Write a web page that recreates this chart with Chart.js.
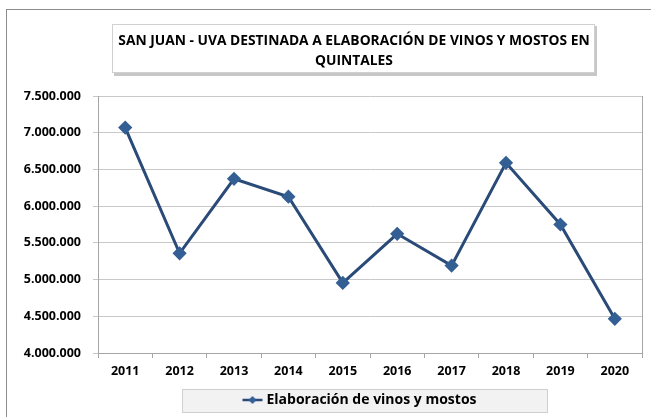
<!DOCTYPE html>
<html>
<head>
<meta charset="utf-8">
<script src="https://cdn.jsdelivr.net/npm/chart.js@4"></script>
<style>
  html, body { margin: 0; padding: 0; background: #fff; }
  #wrap { width: 651px; height: 417px; }
</style>
</head>
<body>
<div id="wrap"><canvas id="uvaChart"></canvas></div>
<script>
const years = ['2011', '2012', '2013', '2014', '2015', '2016', '2017', '2018', '2019', '2020'];
const quintales = [7070000, 5358000, 6373000, 6128000, 4955000, 5623000, 5190000, 6590000, 5750000, 4465000];
const titleLines = ['SAN JUAN - UVA DESTINADA A ELABORACIÓN DE VINOS Y MOSTOS EN', 'QUINTALES'];
const seriesLabel = 'Elaboración de vinos y mostos';

const lineColor = '#2A4A78';
const pointColor = '#335F94';
const font = "'Open Sans', 'Liberation Sans', sans-serif";

// little legend symbol: line with diamond
function legendSymbol(){
  const c = document.createElement('canvas');
  c.width = 22; c.height = 10;
  const g = c.getContext('2d');
  g.strokeStyle = lineColor; g.lineWidth = 2.5;
  g.beginPath(); g.moveTo(1, 5); g.lineTo(21, 5); g.stroke();
  g.fillStyle = pointColor;
  g.beginPath(); g.moveTo(11, 1); g.lineTo(15, 5); g.lineTo(11, 9); g.lineTo(7, 5); g.closePath(); g.fill();
  return c;
}

function fmt(v){
  return String(v).replace(/\B(?=(\d{3})+(?!\d))/g, '.');
}

const framePlugin = {
  id: 'frame',
  afterLayout(chart){
    // legend box sits right of centre in the original
    const lg = chart.legend;
    lg.left += 40; lg.right += 40;
  },
  beforeDraw(chart){
    const ctx = chart.ctx;
    ctx.save();
    // outer frame
    ctx.strokeStyle = '#8c8c8c'; ctx.lineWidth = 1;
    ctx.strokeRect(6.5, 9.5, 660, 430);
    // title box with shadow
    ctx.fillStyle = 'rgba(0,0,0,0.22)';
    ctx.fillRect(114, 26, 483, 50);
    ctx.fillStyle = '#fff';
    ctx.fillRect(112, 24, 483, 49);
    ctx.strokeStyle = '#d0d0d0';
    ctx.strokeRect(112.5, 24.5, 482, 48);
    // legend box
    ctx.fillStyle = '#f2f2f2';
    ctx.fillRect(182, 389, 366, 24);
    ctx.strokeStyle = '#cfcfcf';
    ctx.strokeRect(182.5, 389.5, 365, 23);
    // title text
    ctx.fillStyle = '#000';
    ctx.font = "bold 13.8px " + font;
    ctx.textAlign = 'center'; ctx.textBaseline = 'middle';
    ctx.fillText(titleLines[0], 354, 41);
    ctx.fillText(titleLines[1], 354, 61);
    ctx.restore();
  },
  afterDatasetsDraw(chart){
    const a = chart.chartArea, ctx = chart.ctx;
    ctx.save();
    ctx.strokeStyle = '#a6a6a6'; ctx.lineWidth = 1;
    ctx.beginPath();
    ctx.moveTo(Math.round(a.right) + 0.5, a.top);
    ctx.lineTo(Math.round(a.right) + 0.5, a.bottom);
    ctx.stroke();
    ctx.restore();
  }
};

new Chart(document.getElementById('uvaChart'), {
  type: 'line',
  data: {
    labels: years,
    datasets: [{
      label: seriesLabel,
      data: quintales,
      borderColor: lineColor,
      backgroundColor: pointColor,
      borderWidth: 3,
      pointStyle: 'rectRot',
      pointRadius: 5,
      pointBackgroundColor: pointColor,
      pointBorderColor: pointColor,
      tension: 0
    }]
  },
  options: {
    responsive: true,
    maintainAspectRatio: false,
    animation: false,
    layout: { padding: { top: 96, right: 9, bottom: 0, left: 0 } },
    plugins: {
      title: { display: false },
      tooltip: { enabled: false },
      legend: {
        position: 'bottom',
        labels: {
          usePointStyle: true,
          pointStyle: legendSymbol(),
          color: '#000',
          font: { family: font, size: 14, weight: 'bold' },
          padding: 0
        }
      }
    },
    scales: {
      x: {
        offset: true,
        grid: { offset: true, drawOnChartArea: false, drawTicks: true, tickLength: 5, color: '#a6a6a6' },
        border: { color: '#a6a6a6' },
        ticks: { color: '#000', padding: 6, font: { family: font, size: 12.5, weight: 'bold' }, maxRotation: 0 },
        afterFit(s){ s.height = 40; }
      },
      y: {
        min: 4000000,
        max: 7500000,
        grid: { color: '#c8c8c8', tickLength: 5, drawTicks: true },
        border: { color: '#a6a6a6' },
        ticks: {
          stepSize: 500000,
          color: '#000',
          padding: 12,
          font: { family: font, size: 12.5, weight: 'bold' },
          callback: v => fmt(v)
        },
        afterFit(s){ s.width = 98; }
      }
    }
  },
  plugins: [framePlugin]
});
</script>
</body>
</html>
